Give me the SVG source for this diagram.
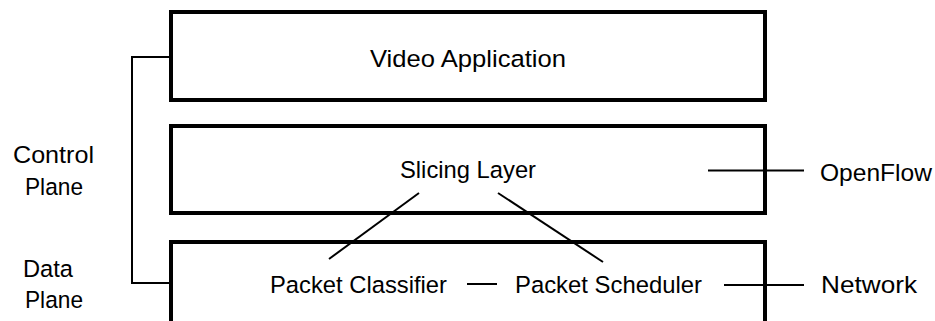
<svg xmlns="http://www.w3.org/2000/svg" width="935" height="321" viewBox="0 0 935 321">
<style>
.box{fill:#fff;stroke:#000;stroke-width:4}
.ln{fill:none;stroke:#000;stroke-width:2}
text{font-family:"Liberation Sans",Arial,sans-serif;font-size:24.5px;fill:#000}
</style>
<rect width="935" height="321" fill="#fff"/>
<g id="video-application">
<rect class="box" x="171" y="12" width="594" height="88"/>
<text x="370" y="66.5" textLength="196" lengthAdjust="spacingAndGlyphs">Video Application</text>
</g>
<g id="slicing-layer">
<rect class="box" x="171" y="126" width="594" height="87"/>
<text x="400" y="178.3" textLength="136" lengthAdjust="spacingAndGlyphs">Slicing Layer</text>
</g>
<g id="data-plane-box">
<rect class="box" x="171" y="242" width="594" height="100"/>
</g>
<g id="packet-classifier"><text x="270" y="293" textLength="177" lengthAdjust="spacingAndGlyphs">Packet Classifier</text></g>
<g id="packet-scheduler"><text x="515" y="293.3" textLength="187" lengthAdjust="spacingAndGlyphs">Packet Scheduler</text></g>
<g id="openflow"><text x="820" y="180.5" textLength="112" lengthAdjust="spacingAndGlyphs">OpenFlow</text></g>
<g id="network"><text x="821" y="293.3" textLength="96" lengthAdjust="spacingAndGlyphs">Network</text></g>
<g id="control-plane-label">
<text x="13" y="163.3" textLength="81" lengthAdjust="spacingAndGlyphs">Control</text>
<text x="25" y="195" textLength="58" lengthAdjust="spacingAndGlyphs">Plane</text>
</g>
<g id="data-plane-label">
<text x="23" y="276.7" textLength="50" lengthAdjust="spacingAndGlyphs">Data</text>
<text x="25" y="308.3" textLength="58" lengthAdjust="spacingAndGlyphs">Plane</text>
</g>
<g id="connectors">
<polyline class="ln" points="171,57 132,57 132,283 171,283"/>
<line class="ln" x1="419" y1="193" x2="329" y2="259"/>
<line class="ln" x1="498" y1="193" x2="603" y2="262"/>
<line class="ln" x1="467" y1="284" x2="497" y2="284"/>
<line class="ln" x1="708" y1="170.5" x2="804" y2="170.5"/>
<line class="ln" x1="724" y1="285" x2="804" y2="285"/>
</g>
</svg>
